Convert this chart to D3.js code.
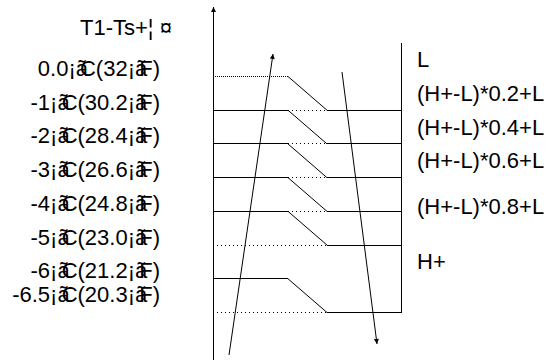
<!DOCTYPE html>
<html>
<head>
<meta charset="utf-8">
<script src="https://cdn.jsdelivr.net/npm/d3@7"></script>
<style>
body { margin:0; background:#fff; }
text { font-family: "Liberation Sans", Arial, sans-serif; font-size:22px; fill:#000; }
</style>
</head>
<body>
<div id="chart"></div>
<script>
// left labels (temperature rows)
var celsius = ["0.0", "-1", "-2", "-3", "-4", "-5", "-6", "-6.5"]
var fahrenheit = ["32", "30.2", "28.4", "26.6", "24.8", "23.0", "21.2", "20.3"]
var labelRow = [0, 1, 2, 3, 4, 5, 6, 6.7]

// level lines, one per row
var levelRows = [0, 1, 2, 3, 4, 5, 6, 7]
var leftStyle = ["dense", "solid", "solid", "solid", "solid", "dot", "solid", "dot"]
var dropRows = [0, 1, 2, 3, 4, 6]   // rows that bend down to the next row

// right side labels
var rightNames = ["L", "(H+-L)*0.2+L", "(H+-L)*0.4+L", "(H+-L)*0.6+L", "(H+-L)*0.8+L", "H+"]
var rightRow = [-0.5, 0.5, 1.5, 2.5, 3.85, 5.5]

var title = "T1-Ts+¦ ¤"

var width = 553, height = 360

var svg = d3.select('#chart').append('svg')
    .attr('width', width)
    .attr('height', height)

var defs = svg.append('defs')
defs.append('marker')
    .attr('id', 'head')
    .attr('viewBox', '0 0 10 10')
    .attr('refX', 10).attr('refY', 5)
    .attr('markerWidth', 10).attr('markerHeight', 5)
    .attr('markerUnits', 'userSpaceOnUse')
    .attr('orient', 'auto')
    .append('path')
    .attr('d', 'M0,0L10,5L0,10Z')
    .attr('fill', '#000')

var y = d3.scaleLinear().domain([0, 7]).range([76, 312])
// 0 = axis, 1 = bend start, 2 = bend end, 3 = right bar
var x = d3.scaleLinear().domain([0, 1, 2, 3]).range([213, 288, 327, 401])

var dash = { solid: null, dot: '1,3', dense: '1,1' }

function seg(x1, x2, yy, style) {
    svg.append('line')
        .attr('x1', x(x1)).attr('x2', x(x2))
        .attr('y1', Math.round(y(yy)) + 0.5).attr('y2', Math.round(y(yy)) + 0.5)
        .attr('stroke', '#000')
        .attr('stroke-width', 1)
        .attr('stroke-dasharray', dash[style])
}

levelRows.forEach(function(r, i) {
    var out = dropRows.indexOf(r) >= 0
    var inc = dropRows.indexOf(r - 1) >= 0
    if (out) {
        seg(0, 1, r, leftStyle[i])
        svg.append('line')
            .attr('x1', x(1)).attr('y1', y(r) + 0.5)
            .attr('x2', x(2)).attr('y2', y(r + 1) + 0.5)
            .attr('stroke', '#000')
        if (inc) seg(1, 2, r, 'dot')
    } else {
        seg(0, 2, r, leftStyle[i])
    }
    if (inc) seg(2, 3, r, 'solid')
})

// left axis
svg.append('line')
    .attr('x1', 213.5).attr('x2', 213.5)
    .attr('y1', 360).attr('y2', 7)
    .attr('stroke', '#000')
    .attr('marker-end', 'url(#head)')

// right bar
svg.append('line')
    .attr('x1', x(3) + 0.5).attr('x2', x(3) + 0.5)
    .attr('y1', 43).attr('y2', Math.round(y(7)) + 1)
    .attr('stroke', '#000')

// up and down arrows
svg.append('line')
    .attr('x1', 229).attr('y1', 355)
    .attr('x2', 273).attr('y2', 54)
    .attr('stroke', '#000')
    .attr('marker-end', 'url(#head)')
svg.append('line')
    .attr('x1', 342).attr('y1', 72)
    .attr('x2', 377).attr('y2', 344)
    .attr('stroke', '#000')
    .attr('marker-end', 'url(#head)')

// title
svg.append('text')
    .attr('x', 80).attr('y', 35)
    .text(title)

// left labels, the degree sign glyphs squeezed onto the C / F like in the source
var lab = svg.selectAll('.lab')
    .data(celsius)
    .enter().append('text')
    .attr('class', 'lab')
    .attr('x', 160)
    .attr('y', function(d, i) { return y(labelRow[i]) })
    .attr('text-anchor', 'end')
lab.append('tspan').text(function(d) { return d + '¡' })
lab.append('tspan').style('letter-spacing', '-8px').text('ã')
lab.append('tspan').text(function(d, i) { return 'C(' + fahrenheit[i] + '¡' })
lab.append('tspan').style('letter-spacing', '-8px').text('ã')
lab.append('tspan').text('F)')

// right labels
svg.selectAll('.rl')
    .data(rightNames)
    .enter().append('text')
    .attr('class', 'rl')
    .attr('x', 417)
    .attr('y', function(d, i) { return y(rightRow[i]) + 8 })
    .text(function(d) { return d })
</script>
</body>
</html>
